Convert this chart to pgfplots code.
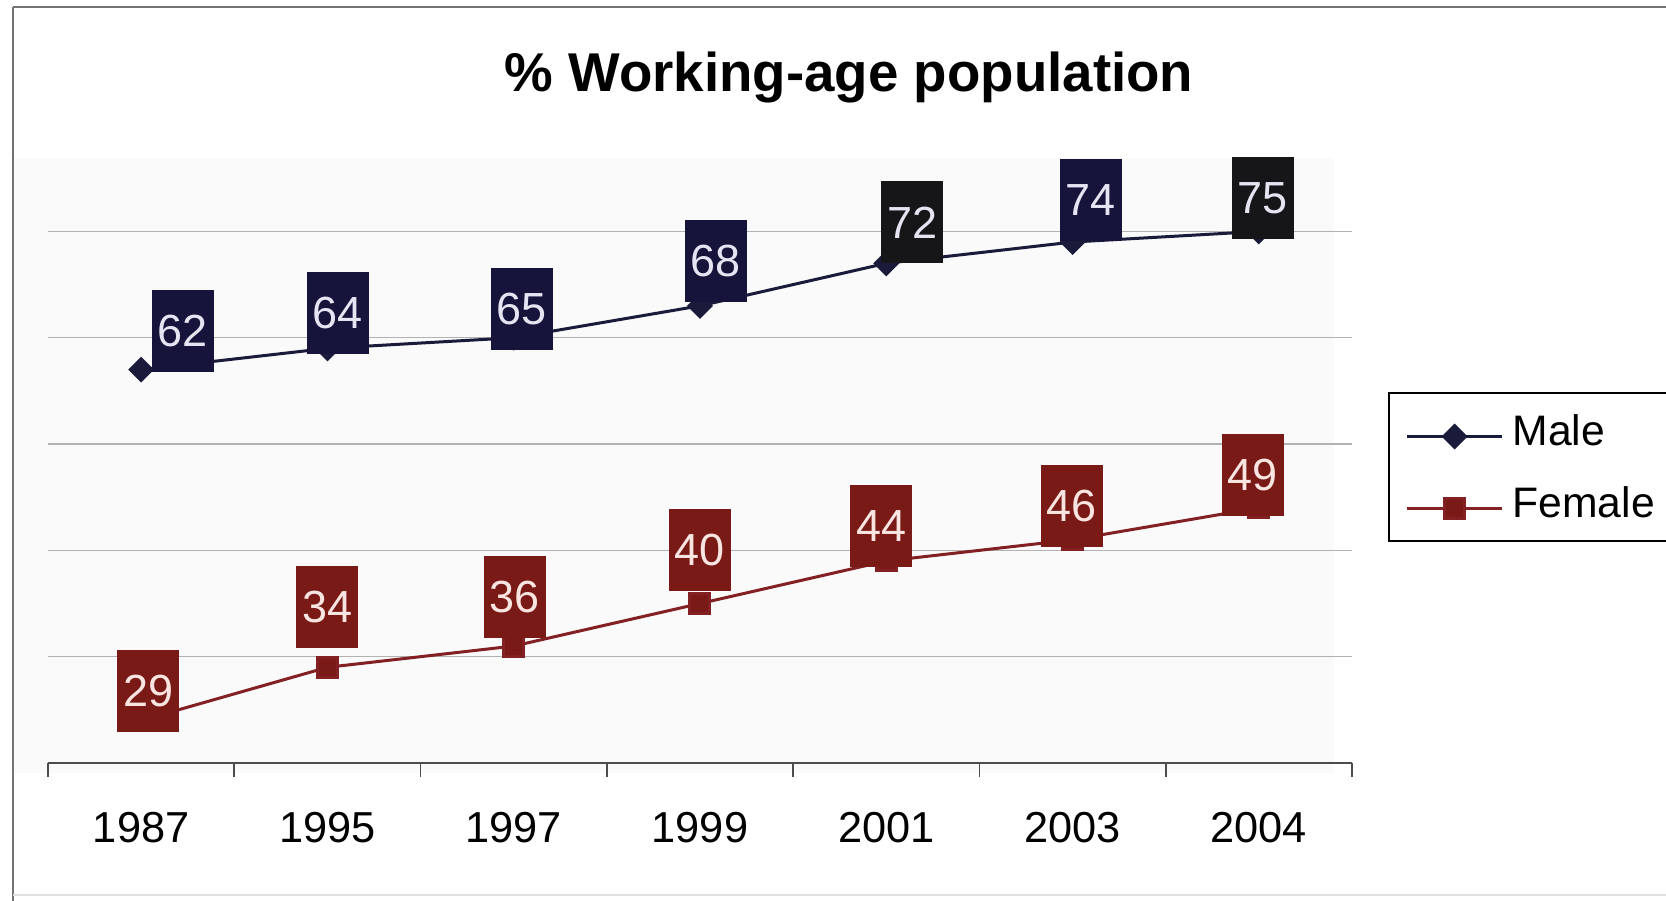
\documentclass[border=0pt]{standalone}
\usepackage{fontspec}
\setmainfont{Liberation Sans}
\usepackage{pgfplots}
\pgfplotsset{compat=1.18}
\usepackage{pgfplotstable}

\definecolor{navyBox}{RGB}{22,20,58}
\definecolor{blackBox}{RGB}{22,22,24}
\definecolor{redBox}{RGB}{122,26,22}
\definecolor{maleLine}{RGB}{26,26,58}
\definecolor{femaleLine}{RGB}{130,32,36}
\definecolor{maleText}{RGB}{228,228,242}
\definecolor{femaleText}{RGB}{248,228,224}
\definecolor{gridC}{RGB}{178,178,178}

% x = category index, y = value, dx/dy = label box offset from the point (px)
\pgfplotstableread{
x y dx dy
0 62 41.5 38.5
1 64 10.5 35.5
2 65 8 29
3 68 16 45
4 72 26 41
5 74 18 42
6 75 4 33.5
}\maletab

\pgfplotstableread{
x y dx dy
0 29 7 29.5
1 34 0 60
2 36 1 49
3 40 0 53
4 44 -5 35
5 46 -1 34
6 49 -6 33
}\femaletab

\pgfplotsset{
  labbox/.style={draw=none, mark=none, forget plot,
    point meta=explicit symbolic, nodes near coords,
    every node near coord/.append style={anchor=center, fill=#1,
      minimum width=18.6pt, minimum height=24.6pt, inner sep=0pt,
      font=\fontsize{13.5}{15}\selectfont}},
}

\begin{document}
\begin{tikzpicture}[x=0.3pt,y=0.3pt]
\useasboundingbox (0,0) rectangle (1666,901);
\fill[black!2] (13,128) rectangle (1334,743);
\draw[black!55, line width=0.6pt] (13,894) -- (1666,894);
\draw[black!55, line width=0.6pt] (13,894) -- (13,0);
\draw[black!12, line width=0.6pt] (13,6) -- (1666,6);
\node[anchor=base, inner sep=0pt, font=\fontsize{16.4}{20}\selectfont\bfseries] at (849,809) {\% Working-age population};
\begin{axis}[
  at={(14.4pt,41.4pt)}, anchor=south west,
  scale only axis, width=391.2pt, height=181.8pt,
  xmin=-0.5, xmax=6.5, ymin=25, ymax=82,
  axis x line*=bottom, axis y line*=left,
  y axis line style={draw=none},
  x axis line style={draw=black!70, line width=0.5pt},
  ytick={35,45,55,65,75}, yticklabels={},
  ymajorgrids, major grid style={draw=gridC, line width=0.45pt},
  major y tick style={draw=none},
  xtick={0,...,6},
  xticklabels={1987,1995,1997,1999,2001,2003,2004},
  major x tick style={draw=none},
  minor xtick={-0.5,0.5,...,6.5},
  minor x tick style={draw=black!70, line width=0.5pt},
  minor tick length=4.2pt,
  tick align=outside,
  xticklabel style={font=\fontsize{13}{15}\selectfont, anchor=base, yshift=-19.5pt, inner sep=0pt},
  legend style={draw=none, fill=none, at={(axis description cs:1.0406,0.5759)}, anchor=north west,
    font=\fontsize{12.8}{15}\selectfont, row sep=9.7pt, inner sep=0pt,
    nodes={inner sep=0pt, text height=9.2pt, text depth=2.7pt},
    /tikz/every odd column/.append style={column sep=2.7pt}},
  legend cell align=left,
  legend image code/.code={\draw[mark repeat=2, mark phase=2, #1] plot coordinates {(0pt,-0.6pt) (14.25pt,-0.6pt) (28.5pt,-0.6pt)};},
]
\addplot[color=maleLine, line width=0.9pt, mark=square*, mark size=2.3pt,
  mark options={rotate=45, fill=maleLine, solid}] table[x=x, y=y] {\maletab};
\addlegendentry{Male}
\addplot[color=femaleLine, line width=0.9pt, mark=square*, mark size=3pt,
  mark options={fill=redBox, solid}] table[x=x, y=y] {\femaletab};
\addlegendentry{Female}
% data labels (boxes), navy ones
\addplot[labbox=navyBox, every node near coord/.append style={text=maleText},
  skip coords between index={4}{5}, skip coords between index={6}{7}]
  table[x expr=\thisrow{x}+\thisrow{dx}/186.3, y expr=\thisrow{y}+\thisrow{dy}/10.625, meta=y] {\maletab};
% black ones
\addplot[labbox=blackBox, every node near coord/.append style={text=maleText},
  skip coords between index={0}{4}, skip coords between index={5}{6}]
  table[x expr=\thisrow{x}+\thisrow{dx}/186.3, y expr=\thisrow{y}+\thisrow{dy}/10.625, meta=y] {\maletab};
\addplot[labbox=redBox, every node near coord/.append style={text=femaleText}]
  table[x expr=\thisrow{x}+\thisrow{dx}/186.3, y expr=\thisrow{y}+\thisrow{dy}/10.625, meta=y] {\femaletab};
\end{axis}
\draw[black, line width=0.45pt] (1389,360) rectangle (1700,508);
\end{tikzpicture}
\end{document}
